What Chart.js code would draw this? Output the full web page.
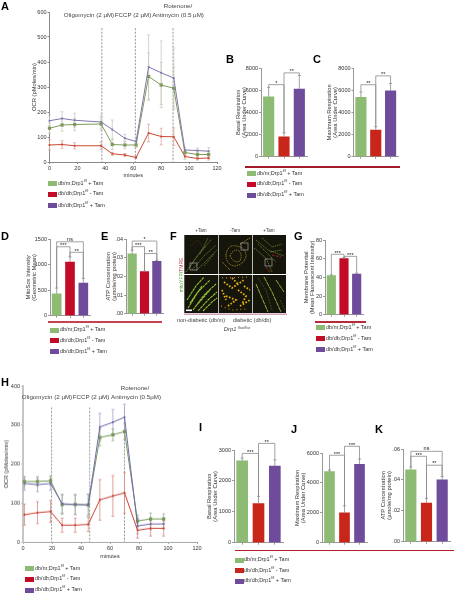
<!DOCTYPE html>
<html><head><meta charset="utf-8">
<script src="https://cdn.jsdelivr.net/npm/chart.js@4"></script>
<style>
html,body{margin:0;padding:0;background:#fff;width:455px;height:593px;overflow:hidden}
#page{position:relative;width:455px;height:593px;filter:blur(.3px);font-family:"Liberation Sans",sans-serif;color:#333}
canvas{position:absolute}
.t{position:absolute;white-space:nowrap;line-height:1;transform:translate(-50%,-50%);font-size:6.2px;color:#444}
.p{position:absolute;font-weight:bold;font-size:11px;line-height:1;color:#000}
.lg{position:absolute;white-space:nowrap;font-size:5.5px;line-height:1;color:#333}
.lg sup{font-size:3.6px;vertical-align:3px;line-height:0}
.sw{position:absolute;height:5px}
.rule{position:absolute;height:1.3px}
</style></head><body><div id="page"></div>
<script>
// ---------- data ----------
const groupNames = ['db/m;Drp1 + Tam','db/db;Drp1 - Tam','db/db;Drp1 + Tam'];

const aMinutes = [0,9,18,37,45,54,62,71,80,89,97,106,114];
const aGreen  = [135,148,150,152,70,68,68,342,308,295,38,30,30];
const aRed    = [68,70,65,65,33,28,18,116,102,101,22,14,16];
const aPurple = [165,174,167,160,130,95,82,380,357,336,48,46,43];
const aGreenErr  = [20,25,25,25,20,15,10,95,90,85,12,12,15];
const aRedErr    = [20,15,12,15,6,6,4,35,33,35,10,6,8];
const aPurpleErr = [20,27,28,28,38,15,15,128,127,120,10,10,15];
const aInjections = [37.5,61.5,88.5];

const hMinutes = [1,10,19,27,36,45,53,62,70,79,88,97];
const hGreen  = [155,155,157,96,96,95,268,275,283,54,59,59];
const hRed    = [70,75,78,43,43,45,108,118,126,30,35,35];
const hPurple = [150,147,150,98,96,95,295,307,320,41,46,46];
const hGreenErr  = [12,12,12,25,25,28,22,15,20,15,15,13];
const hRedErr    = [27,28,28,18,18,18,52,52,52,20,20,20];
const hPurpleErr = [17,18,18,24,26,27,35,33,33,20,15,12];
const hInjections = [19.7,46,70];

const bValues = [5400,1800,6100];  const bErr = [850,340,1220];
const cValues = [5350,2400,5950];  const cErr = [480,300,650];
const dValues = [430,1050,640];    const dErr = [110,100,90];
const eValues = [.032,.0225,.028]; const eErr = [.002,.0003,.0005];
const gValues = [42,60,43.5];      const gErr = [.7,1.2,1];
const iValues = [2650,1270,2480];  const iErr = [90,230,200];
const jValues = [4750,2000,5250];  const jErr = [110,470,350];
const kValues = [.0465,.025,.04];  const kErr = [.0018,.003,.0022];

// brackets: from bar, to bar, top value, left end value, right end value, label
const bBrackets = [[0,1,6500,6280,2140,'*'],[1,2,7560,2140,7320,'**']];
const cBrackets = [[0,1,6490,5830,2700,'**'],[1,2,7290,2700,6600,'**']];
const dBrackets = [[0,2,1445,540,730,'ns'],[0,1,1348,540,1150,'***'],[1,2,1240,1150,730,'**']];
const eBrackets = [[0,2,.0389,.034,.0285,'*'],[0,1,.0359,.034,.0228,'***'],[1,2,.0322,.0228,.0285,'**']];
const gBrackets = [[0,1,64.7,42.7,61.2,'***'],[1,2,62.5,61.2,44.5,'***']];
const iBrackets = [[0,1,2890,2740,1500,'***'],[1,2,3215,1500,2680,'**']];
const jBrackets = [[0,1,5850,4860,2470,'***'],[1,2,6450,2470,5600,'***']];
const kBrackets = [[0,2,.0585,.0483,.0422,'ns'],[0,1,.0553,.0483,.028,'***'],[1,2,.0495,.028,.0422,'**']];

const eTickLabels = ['.00','.01','.02','.03','.04'];
const kTickLabels = ['.00','.02','.04','.06'];

const GREEN='#8dbb73', PURPLE='#6f4c9b', RED_A='#c8261a', RED_B='#c20b27';
const FONT='"Liberation Sans", sans-serif';
const page=document.getElementById('page');

// ---------- helpers ----------
function add(cls,left,top,html,extra){
  const el=document.createElement('div');el.className=cls;el.style.left=left+'px';el.style.top=top+'px';
  el.innerHTML=html;if(extra)Object.assign(el.style,extra);page.appendChild(el);return el;
}
function canvasFor(g){
  const c=document.createElement('canvas');
  const w=g.ml+(g.r-g.x)+g.pr,h=g.pt+(g.b-g.t)+g.mb;
  c.width=w;c.height=h;c.style.left=(g.x-g.ml)+'px';c.style.top=(g.t-g.pt)+'px';
  c.style.width=w+'px';c.style.height=h+'px';page.appendChild(c);
  return c.getContext('2d');
}
function bracketPlugin(list,labelSize){
  return {id:'brackets',afterDatasetsDraw(ch){
    const y=ch.scales.y,m=ch.getDatasetMeta(0).data,c=ch.ctx;
    c.save();c.strokeStyle='#8a8a8a';c.lineWidth=.8;c.fillStyle='#222';
    c.font=(labelSize||5.5)+'px '+FONT;c.textAlign='center';c.textBaseline='bottom';
    list.forEach(b=>{
      const x0=m[b[0]].x,x1=m[b[1]].x,t=y.getPixelForValue(b[2]);
      c.beginPath();c.moveTo(x0,y.getPixelForValue(b[3]));c.lineTo(x0,t);c.lineTo(x1,t);c.lineTo(x1,y.getPixelForValue(b[4]));c.stroke();
      c.fillText(b[5],(x0+x1)/2,t+(b[5].startsWith('*')?1.5:0));
    });
    c.restore();
  }};
}
function barErrPlugin(err){
  return {id:'barErr',afterDatasetsDraw(ch){
    const y=ch.scales.y,ds=ch.data.datasets[0].data,m=ch.getDatasetMeta(0).data,c=ch.ctx;
    c.save();c.strokeStyle='#8a8a8a';c.lineWidth=.8;
    m.forEach((bar,i)=>{
      const p=y.getPixelForValue(ds[i]+err[i]);
      c.beginPath();c.moveTo(bar.x,y.getPixelForValue(ds[i]));c.lineTo(bar.x,p);c.moveTo(bar.x-1.5,p);c.lineTo(bar.x+1.5,p);c.stroke();
    });
    c.restore();
  }};
}
function lineErrPlugin(errs,colors,injections){
  return {id:'lineErr',beforeDatasetsDraw(ch){
    const xs=ch.scales.x,y=ch.scales.y,c=ch.ctx,a=ch.chartArea;
    c.save();c.lineWidth=.8;c.setLineDash([2,1.5]);c.strokeStyle='#777';
    injections.forEach(v=>{const p=xs.getPixelForValue(v);c.beginPath();c.moveTo(p,a.top+y.getPixelForValue(600)*0+ (y.max===600?y.getPixelForValue(535)-a.top:y.getPixelForValue(345)-a.top));c.lineTo(p,a.bottom);c.stroke();});
    c.setLineDash([]);
    ch.data.datasets.forEach((d,k)=>{
      c.strokeStyle=colors[k];
      d.data.forEach((pt,i)=>{
        const px=xs.getPixelForValue(pt.x),hi=y.getPixelForValue(pt.y+errs[k][i]),lo=y.getPixelForValue(pt.y-errs[k][i]);
        c.beginPath();c.moveTo(px,hi);c.lineTo(px,lo);
        c.moveTo(px-1.5,hi);c.lineTo(px+1.5,hi);c.moveTo(px-1.5,lo);c.lineTo(px+1.5,lo);c.stroke();
      });
    });
    c.restore();
  }};
}
function yScale(g,o){
  return {min:o.min||0,max:o.max,afterFit(s){s.width=g.ml;},
    border:{color:o.axis||'#999',width:o.axisW||1},
    grid:{drawOnChartArea:false,drawTicks:true,tickLength:2,color:o.axis||'#999'},
    ticks:{stepSize:o.step,color:'#333',font:{size:5.5,family:FONT},padding:1,callback:o.cb||(v=>v),maxRotation:0,autoSkip:false},
    title:{display:!!o.title,text:o.title,color:'#333',font:{size:5.8,family:FONT,lineHeight:1.05},padding:0}};
}
function barPanel(g,title,values,err,brackets,red,opts){
  const ctx=canvasFor(g);
  new Chart(ctx,{type:'bar',
    data:{labels:groupNames,datasets:[{data:values,backgroundColor:[GREEN,red,PURPLE],barThickness:g.bw,borderWidth:0}]},
    plugins:[barErrPlugin(err),bracketPlugin(brackets)],
    options:{responsive:false,animation:false,devicePixelRatio:1,
      layout:{autoPadding:false,padding:{top:g.pt,right:g.pr,left:0,bottom:0}},
      plugins:{legend:{display:false},tooltip:{enabled:false}},
      scales:{
        x:{afterFit(s){s.height=g.mb;},border:{color:'#999',width:1},
           grid:{offset:false,drawOnChartArea:false,drawTicks:true,tickLength:2,color:'#999'},ticks:{display:false}},
        y:yScale(g,Object.assign({max:opts.max,step:opts.step,title:title,cb:opts.cb}))
      }}});
}
function linePanel(g,title,minutes,series,errs,colors,errColors,inj,opts){
  const ctx=canvasFor(g);
  const sizes=[1.3,2.3,1.3];const styles=['rect','rect','rect'];
  new Chart(ctx,{type:'line',
    data:{datasets:series.map((s,k)=>({data:s.map((v,i)=>({x:minutes[i],y:v})),borderColor:colors[k],backgroundColor:colors[k],
      borderWidth:1,pointStyle:styles[k],pointRadius:sizes[k],pointBorderWidth:0,tension:0,clip:false}))},
    plugins:[lineErrPlugin(errs,errColors,inj)],
    options:{responsive:false,animation:false,devicePixelRatio:1,parsing:false,
      layout:{autoPadding:false,padding:{top:g.pt,right:g.pr,left:0,bottom:0}},
      plugins:{legend:{display:false},tooltip:{enabled:false}},
      scales:{
        x:{type:'linear',min:0,max:120,afterFit(s){s.height=g.mb;},
           border:{color:opts.xAxis,width:1},
           grid:{drawOnChartArea:false,drawTicks:true,tickLength:2,color:opts.xAxis},
           ticks:{stepSize:20,color:'#333',font:{size:5.5,family:FONT},padding:1,maxRotation:0},
           title:{display:true,text:'minutes',color:'#333',font:{size:5.5,family:FONT},padding:0}},
        y:yScale(g,{max:opts.max,step:opts.step,title:title,axis:opts.yAxis,axisW:opts.yW})
      }}});
}
function legend(x,ys,textX,reds,sw){
  const names=[['db/m;Drp1','+ Tam'],['db/db;Drp1','- Tam'],['db/db;Drp1','+ Tam']];
  const cols=[GREEN,reds,PURPLE];
  ys.forEach((y,i)=>{
    const s=add('sw',x,y-2.5,'');s.style.width=(sw||9)+'px';s.style.background=cols[i];
    add('lg',textX,y-2.6,names[i][0]+'<sup>f/f</sup> '+names[i][1]);
  });
}
function rule(x0,x1,y,col){add('rule',x0,y-.6,'',{width:(x1-x0)+'px',background:col});}

// ---------- panels ----------
const lineColors=['#8aa568','#c8402f','#7f78ad'];
const seriesOrder=[aPurple,aRed,aGreen];

linePanel({x:49,t:11.7,r:216.7,b:161.7,ml:18.5,pt:6,pr:8,mb:17},'OCR (pMoles/min)',aMinutes,
  [aPurple,aGreen,aRed],[aPurpleErr,aGreenErr,aRedErr],
  ['#7f78ad','#7f9a5c','#cc4a35'],['#c9c8d0','#c8cdb8','#dba89c'],aInjections,
  {max:600,step:100,xAxis:'#888',yAxis:'#888',yW:1});
linePanel({x:23,t:386,r:197,b:541.7,ml:20,pt:6,pr:8,mb:18},'OCR (pMoles/min)',hMinutes,
  [hPurple,hGreen,hRed],[hPurpleErr,hGreenErr,hRedErr],
  ['#6f69a8','#78985a','#cc4030'],['#a5a2d0','#9fb58e','#d88b7f'],hInjections,
  {max:400,step:100,xAxis:'#a8a8a8',yAxis:'#c6c6c6',yW:2});

barPanel({x:261,t:67.5,r:307,b:157,ml:26,pt:6,pr:3,mb:4,bw:10.5},['Basal Respiration','(Area Under Curve)'],bValues,bErr,bBrackets,RED_A,{max:8000,step:2000});
barPanel({x:353,t:67.5,r:398,b:157,ml:27.5,pt:6,pr:3,mb:4,bw:10.5},['Maximum Respiration','(Area Under Curve)'],cValues,cErr,cBrackets,RED_A,{max:8000,step:2000});
barPanel({x:50,t:239,r:90,b:316,ml:25,pt:8,pr:3,mb:4,bw:9},['MitoSox Intensity','(Geometric Mean)'],dValues,dErr,dBrackets,RED_B,{max:1500,step:500});
barPanel({x:126,t:239,r:163,b:314,ml:21,pt:8,pr:3,mb:4,bw:8.5},['ATP Concentration','(µmole/mg protein)'],eValues,eErr,eBrackets,RED_B,{max:.04,step:.01,cb:(v,i)=>eTickLabels[i]});
barPanel({x:325,t:240,r:363,b:315,ml:22,pt:8,pr:3,mb:4,bw:8.5},['Membrane Potential','(Mean Fluorescent Intensity)'],gValues,gErr,gBrackets,RED_B,{max:80,step:20});
barPanel({x:234,t:450,r:283,b:543,ml:28,pt:10,pr:3,mb:4,bw:11},['Basal Respiration','(Area Under Curve)'],iValues,iErr,iBrackets,RED_A,{max:3000,step:1000});
barPanel({x:322,t:453,r:367,b:543,ml:28,pt:12,pr:3,mb:4,bw:10},['Maximum Respiration','(Area Under Curve)'],jValues,jErr,jBrackets,RED_A,{max:6000,step:2000});
barPanel({x:403,t:449,r:450,b:542,ml:23,pt:8,pr:3,mb:4,bw:10.5},['ATP Concentration','(µmole/mg protein)'],kValues,kErr,kBrackets,RED_A,{max:.06,step:.02,cb:(v,i)=>kTickLabels[i]});

// ---------- legends and rules ----------
legend(48.3,[183.7,194,205.3],58,RED_B);
legend(247,[173.3,184,195],257,RED_B);
legend(50,[330,340.7,351.7],60,RED_B);
legend(316,[327.3,338.3,349.3],326,RED_B);
legend(25,[568.3,579,590],35,RED_B);
legend(235,[560,570.3,581],244,RED_A);
rule(245,400,167,'#a31a2a');
rule(48,162,322,'#c9404f');
rule(315,366,322,'#b82a3a');
rule(235,454,550.3,'#b31c2c');

// ---------- treatment labels ----------
add('t',89,15,'Oligomycin (2 µM)');
add('t',133,15,'FCCP (2 µM)');
add('t',178,6,'Rotenone/');
add('t',178,15,'Antimycin (0.5 µM)');
add('t',47,397,'Oligomycin (2 µM)');
add('t',91,397,'FCCP (2 µM)');
add('t',135,388,'Rotenone/');
add('t',136,397,'Antimycin (0.5µM)');

// ---------- panel letters ----------
[['A',1,1],['B',226,54],['C',313,54],['D',1,231],['E',101,231],['F',170,231],['G',294,231],['H',1,377],['I',199,422],['J',291,424],['K',375,424]]
  .forEach(p=>add('p',p[1],p[2],p[0]));

// ---------- micrograph ----------
const cells=[[184.3,235,34,39],[219,235,33.3,39],[253,235,33,39],[184.3,275,34,38],[219,275,33.3,38],[253,275,33,38]];
const micro=[
 ['#6f9a35',.7,'1.5 .8','M189 268L200 252L212 239M192 270L204 256L216 245M196 271L207 260L217 250M200 254L208 238M186 272L196 258L206 246M204 266L214 254'],
 ['#4f3a20',.7,'1 1','M190 246L198 240L203 248'],
 ['#b8a52c',.8,'1.2 .9','M226 255Q228 244 236 246Q246 247 246 256Q244 265 234 266Q226 264 226 255M230 256Q232 250 238 250Q243 254 240 261Q234 264 230 256M222 262L230 270M240 244L250 238'],
 ['#7a9a2c',.7,'1.5 .8','M256 240L268 250L284 256M262 238L272 247L282 244M254 248L266 258L272 272M270 252L282 250M258 244L276 262'],
 ['#6a1f1c',1.4,'3 1','M272 255L281 257M266 267L270 272'],
 ['#8ec236',1.1,'3 .6','M188 308L198 292L210 280M193 310L204 295L216 284M198 311L208 300L217 292M187 300L196 286L204 277M203 311L212 302L217 298M190 303L202 286M196 306L210 290'],
 ['#e6b012',1.8,'1.6 1.6','M224 282L232 288L244 280M226 296L236 300L228 306M238 290L246 296L242 304M232 278L238 284M222 290L226 300M240 306L250 300M244 286L250 290'],
 ['#c98a10',1.2,'1 3','M221 306L232 310L248 309M222 278L250 277'],
 ['#8fae3c',1,'5 .6','M264 277L272 292L281 312M256 284L262 298L268 312M276 280L284 292'],
 ['#3f6a24',.7,'2 1','M258 278L266 290L272 310M280 300L285 310']
];
const boxes=[[190,263,7,7],[241,243,7,7],[265,259,7,7]];
let svg='<svg width="455" height="593" style="position:absolute;left:0;top:0" xmlns="http://www.w3.org/2000/svg">';
svg+='<defs>'+cells.map((c,i)=>`<clipPath id="m${i}"><rect x="${c[0]}" y="${c[1]}" width="${c[2]}" height="${c[3]}"/></clipPath>`).join('')+'</defs>';
cells.forEach(c=>{svg+=`<rect x="${c[0]}" y="${c[1]}" width="${c[2]}" height="${c[3]}" fill="#16150c"/>`;});
micro.forEach(m=>{svg+=`<path d="${m[3]}" fill="none" stroke="${m[0]}" stroke-width="${m[1]}" stroke-dasharray="${m[2]}"/>`;});
boxes.forEach(b=>{svg+=`<rect x="${b[0]}" y="${b[1]}" width="${b[2]}" height="${b[3]}" fill="none" stroke="#b5b5b5" stroke-width=".6"/>`;});
svg+='<rect x="186" y="309.5" width="6" height="1.6" fill="#fff"/>';
svg+='<rect x="184" y="313.6" width="103" height="1.2" fill="#c48aa6"/></svg>';
page.insertAdjacentHTML('beforeend',svg);
add('t',201,231,'+Tam',{fontSize:'4.6px'});
add('t',235,231,'-Tam',{fontSize:'4.6px'});
add('t',269,231,'+Tam',{fontSize:'4.6px'});
add('t',181,275,'<span style="color:#5aa53a">mitoYFP/</span><span style="color:#c23a4a">TMRE</span>',{fontSize:'5px',transform:'translate(-50%,-50%) rotate(-90deg)'});
add('t',201,320.7,'non-diabetic (db/m)',{fontSize:'5.6px'});
add('t',252,320.7,'diabetic (db/db)',{fontSize:'5.6px'});
add('t',237,330,'<i>Drp1</i> <sup style="font-size:3.6px;vertical-align:2px;line-height:0"><i>flox/flox</i></sup>',{fontSize:'5.8px'});
</script></body></html>
